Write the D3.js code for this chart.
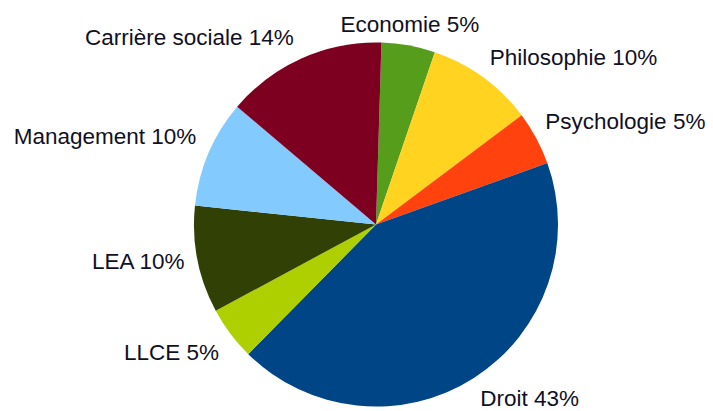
<!DOCTYPE html>
<html>
<head>
<meta charset="utf-8">
<script src="https://cdn.jsdelivr.net/npm/d3@7"></script>
<style>
  html, body { margin: 0; padding: 0; background: #fff; }
  svg { display: block; }
</style>
</head>
<body>
<svg id="chart" width="713" height="411"></svg>
<script>
// Data (counts out of 21 students, shown as rounded percentages)
const categories = ["Economie", "Philosophie", "Psychologie", "Droit", "LLCE", "LEA", "Management", "Carrière sociale"];
const counts     = [1, 2, 1, 9, 1, 2, 2, 3];
const percentLabels = ["5%", "10%", "5%", "43%", "5%", "10%", "10%", "14%"];
const colors     = ["#579d1c", "#ffd320", "#ff420e", "#004586", "#aecf00", "#314004", "#83caff", "#7e0021"];

const width = 713, height = 411;
const cx = 376, cy = 224.5, radius = 182;
const startOffset = 0.03;
const fontSize = 22.5;
const ascent = fontSize * 0.905, descent = fontSize * 0.212;

const svg = d3.select("#chart");
const g = svg.append("g").attr("transform", `translate(${cx},${cy})`);

const data = categories.map((c, i) => ({ name: c, value: counts[i], label: percentLabels[i], color: colors[i] }));

const pie = d3.pie()
  .value(d => d.value)
  .sort(null)
  .startAngle(startOffset)
  .endAngle(startOffset + 2 * Math.PI);

const arc = d3.arc().innerRadius(0).outerRadius(radius);
const labelArc = d3.arc().innerRadius(radius + 8).outerRadius(radius + 8);

const arcs = pie(data);

g.selectAll("path.slice")
  .data(arcs)
  .join("path")
  .attr("class", "slice")
  .attr("d", arc)
  .attr("fill", d => d.data.color);

g.selectAll("text.lbl")
  .data(arcs)
  .join("text")
  .attr("class", "lbl")
  .attr("font-family", "'Liberation Sans', Arial, sans-serif")
  .attr("font-size", fontSize)
  .attr("fill", "#101024")
  .each(function(d) {
    const a = (d.startAngle + d.endAngle) / 2;
    const s = Math.sin(a), c = Math.cos(a);
    const [px, py] = labelArc.centroid(d);
    let anchor = "middle", x = px;
    if (s > 0.3) { anchor = "start"; x = px + 2; }
    else if (s < -0.3) { anchor = "end"; x = px - 5; }
    let y;
    if (c > 0.3) y = py - descent - 1;          // label above point
    else if (c < -0.3) y = py + ascent + 1;     // label below point
    else y = py + (ascent - descent) / 2;       // vertically centred
    d3.select(this)
      .attr("x", x)
      .attr("y", y)
      .attr("text-anchor", anchor)
      .text(d.data.name + " " + d.data.label);
  });
</script>
</body>
</html>
